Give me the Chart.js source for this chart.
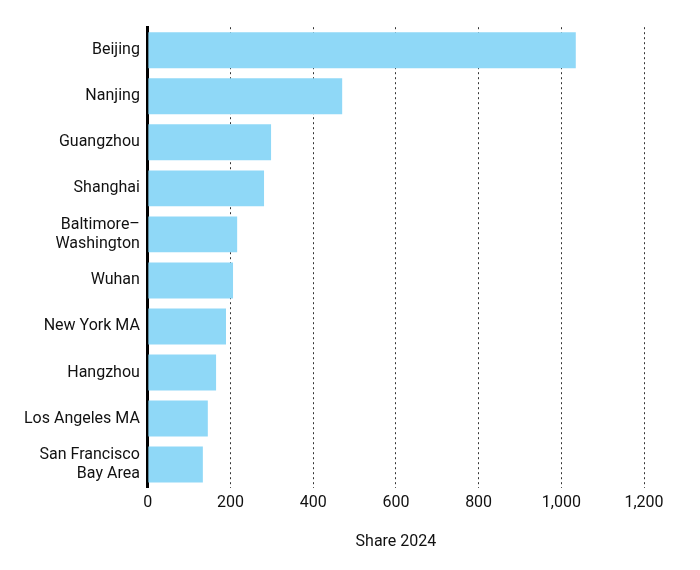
<!DOCTYPE html>
<html>
<head>
<script src="https://cdn.jsdelivr.net/npm/chart.js@4"></script>
<style>
  body { margin: 0; background: #fff; }
  #wrap { width: 700px; height: 570px; }
</style>
</head>
<body>
<div id="wrap"><canvas id="chart"></canvas></div>
<script>
// data
const cities = ['Beijing', 'Nanjing', 'Guangzhou', 'Shanghai', ['Baltimore–', 'Washington'], 'Wuhan',
  'New York MA', 'Hangzhou', 'Los Angeles MA', ['San Francisco', 'Bay Area']];
const share2024 = [1035, 470, 298, 281, 216, 206, 189, 165, 145, 133];
const xTicks = [0, 200, 400, 600, 800, 1000, 1200];

Chart.defaults.font.family = 'Roboto, "Noto Sans", sans-serif';
Chart.defaults.color = '#111';

new Chart(document.getElementById('chart'), {
  type: 'bar',
  data: {
    labels: cities,
    datasets: [{
      label: 'Share 2024',
      data: share2024,
      backgroundColor: '#8fd8f7',
      barPercentage: 0.78,
      categoryPercentage: 1
    }]
  },
  options: {
    indexAxis: 'y',
    responsive: true,
    maintainAspectRatio: false,
    animation: false,
    layout: { padding: { top: 20, right: 56, left: 16, bottom: 14 } },
    plugins: { legend: { display: false }, tooltip: { enabled: false } },
    scales: {
      x: {
        min: 0, max: 1200,
        afterBuildTicks: axis => { axis.ticks = xTicks.map(v => ({ value: v })); },
        ticks: { font: { size: 16 }, padding: 6, callback: v => v.toLocaleString('en-US') },
        grid: { color: '#333', lineWidth: 1, drawTicks: false },
        border: { display: false, dash: [2, 3] },
        title: { display: true, text: 'Share 2024', font: { size: 16 }, padding: { top: 14 } }
      },
      y: {
        ticks: { font: { size: 16 }, padding: 8 },
        grid: { display: false, drawTicks: false },
        border: { color: '#000', width: 3 }
      }
    }
  }
});
</script>
</body>
</html>
